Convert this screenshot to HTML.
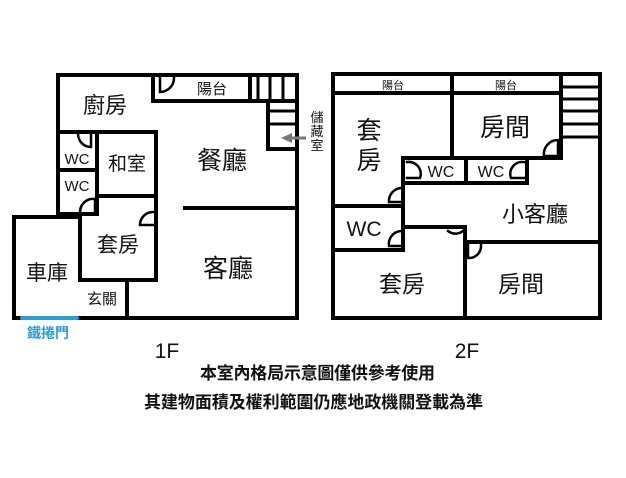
<!DOCTYPE html>
<html><head><meta charset="utf-8"><style>
html,body{margin:0;padding:0;background:#fff;}
svg{display:block;}
text{font-family:"Liberation Sans","Noto Sans CJK TC",sans-serif;fill:#111;}
</style></head><body>
<svg width="626" height="478" viewBox="0 0 626 478" xmlns="http://www.w3.org/2000/svg">
<g stroke="#000" stroke-width="4" fill="none" stroke-linecap="square">
<path d="M58 75 H297 V318 H14 V217 H80"/>
<line x1="58" y1="75" x2="58" y2="214"/>
<line x1="58" y1="214" x2="97" y2="214"/>
<path d="M153 75 V101 H297"/>
<line x1="250" y1="75" x2="250" y2="101"/>
<line x1="258" y1="75" x2="258" y2="101" stroke-width="3"/>
<line x1="270" y1="75" x2="270" y2="101" stroke-width="3"/>
<line x1="283" y1="75" x2="283" y2="101" stroke-width="3"/>
<path d="M268 101 V149 H297"/>
<line x1="268" y1="111" x2="297" y2="111" stroke-width="3"/>
<line x1="268" y1="124" x2="297" y2="124" stroke-width="3"/>
<line x1="58" y1="132" x2="156" y2="132"/>
<line x1="97" y1="132" x2="97" y2="214"/>
<line x1="156" y1="132" x2="156" y2="280"/>
<line x1="97" y1="196" x2="156" y2="196"/>
<line x1="58" y1="170" x2="97" y2="170"/>
<line x1="80" y1="217" x2="80" y2="280"/>
<line x1="80" y1="280" x2="156" y2="280"/>
<line x1="127" y1="280" x2="127" y2="318"/>
<line x1="185" y1="208" x2="297" y2="208"/>
<path d="M160 77 V92 A14 14 0 0 0 174 78" stroke-width="2.5"/>
<path d="M78 134 A13 13 0 0 0 91 147 V134" stroke-width="2.5"/>
<path d="M80 212 A13 13 0 0 1 95 199 V212" stroke-width="2.5"/>
<path d="M154 212 A13 13 0 0 0 140 225 H154" stroke-width="2.5"/>

<rect x="333" y="74" width="267" height="244"/>
<line x1="333" y1="93" x2="561" y2="93"/>
<line x1="452" y1="74" x2="452" y2="158"/>
<line x1="561" y1="74" x2="561" y2="158"/>
<line x1="561" y1="87" x2="600" y2="87" stroke-width="3"/>
<line x1="561" y1="99" x2="600" y2="99" stroke-width="3"/>
<line x1="561" y1="111" x2="600" y2="111" stroke-width="3"/>
<line x1="561" y1="124" x2="600" y2="124" stroke-width="3"/>
<line x1="561" y1="137" x2="600" y2="137" stroke-width="3"/>
<path d="M403 250 V158 H561"/>
<path d="M403 183 H527 V158"/>
<line x1="466" y1="158" x2="466" y2="183"/>
<line x1="333" y1="206" x2="403" y2="206"/>
<line x1="333" y1="250" x2="403" y2="250"/>
<path d="M403 227 H465 V318"/>
<line x1="465" y1="242" x2="600" y2="242"/>
<path d="M558 156 H544 A14 14 0 0 1 558 140 Z" stroke-width="2.5" fill="none"/>
<path d="M407 162 A12 12 0 0 1 420 178 H407" stroke-width="2.5"/>
<path d="M524 162 A12 12 0 0 0 511 178 H524" stroke-width="2.5"/>
<path d="M401 202 H389 A13 13 0 0 1 401 188" stroke-width="2.5"/>
<path d="M401 246 H389 A13 13 0 0 1 401 231" stroke-width="2.5"/>
<path d="M463 231 A12 12 0 0 1 448 231" stroke-width="2.5"/>
<path d="M468 245 V258 A12 12 0 0 0 481 245" stroke-width="2.5"/>
</g>
<line x1="22" y1="318" x2="77" y2="318" stroke="#2a9fd6" stroke-width="4" stroke-linecap="round"/>
<line x1="306" y1="138" x2="290" y2="138" stroke="#777" stroke-width="3"/>
<polygon points="281,138 292,133 292,143" fill="#777"/>

<text x="105" y="113" font-size="22" text-anchor="middle">廚房</text>
<text x="212" y="94" font-size="15" text-anchor="middle">陽台</text>
<text x="222" y="169" font-size="25" text-anchor="middle">餐廳</text>
<text x="228" y="277" font-size="25" text-anchor="middle">客廳</text>
<text x="127" y="170" font-size="19" text-anchor="middle">和室</text>
<text x="77" y="164" font-size="15" text-anchor="middle">WC</text>
<text x="77" y="191" font-size="15" text-anchor="middle">WC</text>
<text x="118" y="252" font-size="21" text-anchor="middle">套房</text>
<text x="47" y="280" font-size="21" text-anchor="middle">車庫</text>
<text x="102" y="304" font-size="15" text-anchor="middle">玄關</text>
<text x="48" y="338" font-size="14" text-anchor="middle" style="fill:#2a9fd6;font-weight:bold">鐵捲門</text>
<text x="317" y="122" font-size="13" text-anchor="middle">儲</text>
<text x="317" y="136" font-size="13" text-anchor="middle">藏</text>
<text x="317" y="150" font-size="13" text-anchor="middle">室</text>

<text x="393" y="89" font-size="11" text-anchor="middle">陽台</text>
<text x="506" y="89" font-size="11" text-anchor="middle">陽台</text>
<text x="369" y="139" font-size="25" text-anchor="middle">套</text>
<text x="369" y="169" font-size="25" text-anchor="middle">房</text>
<text x="505" y="136" font-size="25" text-anchor="middle">房間</text>
<text x="441" y="177" font-size="16" text-anchor="middle">WC</text>
<text x="491" y="177" font-size="16" text-anchor="middle">WC</text>
<text x="364" y="236" font-size="21" text-anchor="middle">WC</text>
<text x="535" y="222" font-size="22" text-anchor="middle">小客廳</text>
<text x="402" y="292" font-size="23" text-anchor="middle">套房</text>
<text x="521" y="292" font-size="23" text-anchor="middle">房間</text>

<text x="167" y="358" font-size="21" text-anchor="middle">1F</text>
<text x="467" y="358" font-size="21" text-anchor="middle">2F</text>
<text x="200" y="379" font-size="17" font-weight="bold" textLength="235" lengthAdjust="spacing">本室內格局示意圖僅供參考使用</text>
<text x="144" y="408" font-size="17" font-weight="bold" textLength="339" lengthAdjust="spacing">其建物面積及權利範圍仍應地政機關登載為準</text>
</svg>
</body></html>
